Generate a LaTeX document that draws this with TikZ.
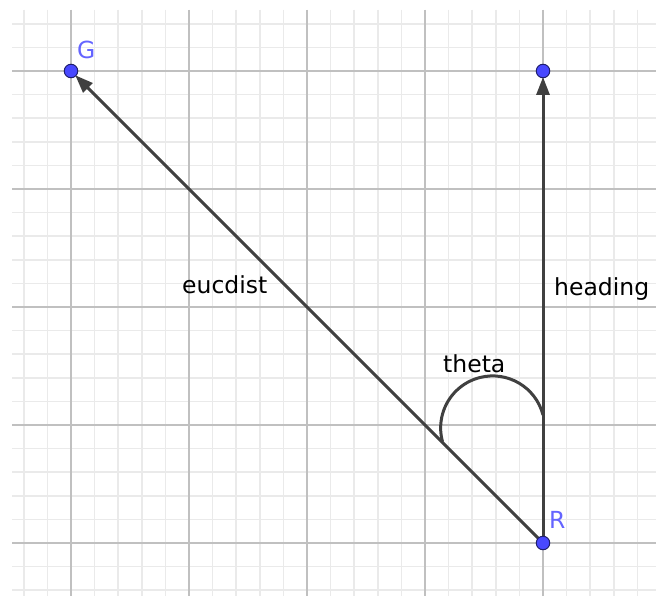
\documentclass[tikz,border=0pt]{standalone}
\usepackage{fontspec}
\setmainfont{DejaVu Sans}
\usetikzlibrary{arrows.meta}
\definecolor{minorgrid}{RGB}{234,234,234}
\definecolor{majorgrid}{RGB}{192,192,192}
\definecolor{vec}{RGB}{64,64,64}
\definecolor{ptfill}{RGB}{72,72,255}
\definecolor{ptdraw}{RGB}{30,30,110}
\definecolor{ptlabel}{RGB}{100,100,255}
\tikzset{
  minorline/.style={draw=minorgrid, line width=1.6},
  majorline/.style={draw=majorgrid, line width=1.8},
  vector/.style={draw=vec, line width=3, -{Triangle[length=18,width=13]}, shorten >=6},
  anglearc/.style={draw=vec, line width=3},
  pt/.style={circle, fill=ptfill, draw=ptdraw, line width=1, minimum size=13.5, inner sep=0pt},
  lbl/.style={font=\fontsize{23.5}{28}\selectfont, text=black, anchor=base west, inner sep=0pt},
  ptlbl/.style={font=\fontsize{23.5}{28}\selectfont, text=ptlabel, anchor=base west, inner sep=0pt}
}
\begin{document}
\begin{tikzpicture}[x=1pt,y=-1pt]
\useasboundingbox (0,0) rectangle (656,596);
\fill[white] (0,0) rectangle (656,596);
% minor grid
\foreach \k in {-2,...,24} \draw[minorline] ({71+23.6*\k},10) -- ({71+23.6*\k},596);
\foreach \k in {-2,...,22} \draw[minorline] (12,{71+23.6*\k}) -- (656,{71+23.6*\k});
% major grid
\foreach \k in {0,...,4} \draw[majorline] ({71+118*\k},10) -- ({71+118*\k},596);
\foreach \k in {0,...,4} \draw[majorline] (12,{71+118*\k}) -- (656,{71+118*\k});
% positions
\coordinate (g) at (71,71);
\coordinate (h) at (543,71);
\coordinate (r) at (543,543);
\coordinate (arcstart) at (543,415);
% vectors
\draw[vector] (r) -- (g);
\draw[vector] (r) -- (h);
% angle
\draw[anglearc] (arcstart) arc[start angle=-14.4, end angle=-195.5, radius=52];
% points
\node[pt] (G) at (g) {};
\node[pt] (H) at (h) {};
\node[pt] (R) at (r) {};
% labels
\node[ptlbl] (Glbl) at (77,59) {G};
\node[ptlbl] (Rlbl) at (549,528) {R};
\node[lbl] (eucdist) at (182,293) {eucdist};
\node[lbl] (heading) at (554,295) {heading};
\node[lbl] (theta) at (443,372) {theta};
\end{tikzpicture}
\end{document}
